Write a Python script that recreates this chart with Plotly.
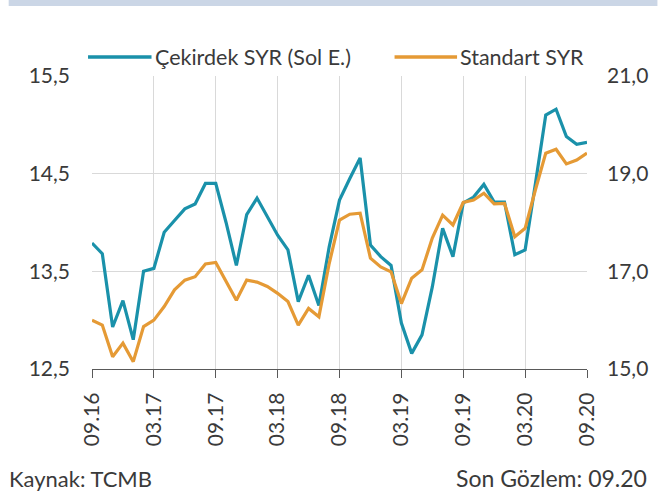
import plotly.graph_objects as go

months = [f"{m:02d}.{y}" for y, m in
          [(16, 9), (16, 10), (16, 11), (16, 12)] +
          [(yy, mm) for yy in (17, 18, 19) for mm in range(1, 13)] +
          [(20, mm) for mm in range(1, 10)]]

cekirdek = [13.79, 13.68, 12.93, 13.20, 12.80, 13.50, 13.53, 13.90, 14.02, 14.14,
            14.19, 14.40, 14.40, 14.00, 13.56, 14.08, 14.25, 14.06, 13.87, 13.72,
            13.19, 13.46, 13.15, 13.75, 14.23, 14.45, 14.66, 13.77, 13.65, 13.56,
            12.97, 12.66, 12.85, 13.34, 13.94, 13.65, 14.20, 14.26, 14.39, 14.21,
            14.21, 13.67, 13.72, 14.40, 15.10, 15.16, 14.88, 14.80, 14.82]

standart = [16.00, 15.90, 15.25, 15.53, 15.15, 15.87, 16.00, 16.28, 16.62, 16.82,
            16.89, 17.15, 17.18, 16.79, 16.41, 16.82, 16.78, 16.69, 16.55, 16.38,
            15.90, 16.24, 16.07, 17.16, 18.05, 18.17, 18.19, 17.27, 17.09, 16.99,
            16.34, 16.86, 17.03, 17.68, 18.15, 17.95, 18.41, 18.46, 18.60, 18.38,
            18.39, 17.71, 17.88, 18.67, 19.42, 19.50, 19.20, 19.28, 19.42]

x_ticks = ["09.16", "03.17", "09.17", "03.18", "09.18", "03.19", "09.19", "03.20", "09.20"]
left_ticks = [12.5, 13.5, 14.5, 15.5]
left_text = ["12,5", "13,5", "14,5", "15,5"]
right_ticks = [15, 17, 19, 21]
right_text = ["15,0", "17,0", "19,0", "21,0"]

TEAL = "#1a91aa"
ORANGE = "#e59a35"
TXT = "#3a3a3a"
FONT = "Lato"
FS = 21

xi = list(range(len(months)))
fig = go.Figure()
fig.add_trace(go.Scatter(x=xi, y=cekirdek, mode="lines", name="Çekirdek SYR (Sol E.)",
                         line=dict(color=TEAL, width=3.2), yaxis="y"))
fig.add_trace(go.Scatter(x=xi, y=standart, mode="lines", name="Standart SYR",
                         line=dict(color=ORANGE, width=3.2), yaxis="y2"))

tickvals = [months.index(t) for t in x_ticks]
fig.update_layout(
    width=660, height=497,
    margin=dict(l=92, r=69, t=76, b=128),
    paper_bgcolor="white", plot_bgcolor="white",
    showlegend=False,
    font=dict(family=FONT, size=FS, color=TXT),
    xaxis=dict(range=[0, len(months) - 1], tickmode="array", tickvals=tickvals,
               ticktext=x_ticks, tickangle=-90, showgrid=True, gridcolor="#d9d9d9",
               gridwidth=1, showline=True, linecolor="#595959", linewidth=1.3,
               ticks="outside", ticklen=8, tickcolor="#595959", zeroline=False,
               ticklabelstandoff=6, tickfont=dict(size=FS, color=TXT)),
    yaxis=dict(range=[12.5, 15.5], tickmode="array", tickvals=left_ticks,
               ticktext=left_text, showgrid=True, gridcolor="#d9d9d9", gridwidth=1,
               zeroline=False, ticklabelstandoff=21, tickfont=dict(size=FS, color=TXT)),
    yaxis2=dict(range=[15, 21], tickmode="array", tickvals=right_ticks,
                ticktext=right_text, overlaying="y", side="right", showgrid=False,
                zeroline=False, ticklabelstandoff=19, tickfont=dict(size=FS, color=TXT)),
)

W, H = 499.0, 293.0
def px(x):
    return (x - 92) / W
def py(y):
    return (369 - y) / H

shapes = [
    dict(type="rect", xref="paper", yref="paper", x0=px(8), x1=px(662), y0=py(0), y1=py(6),
         fillcolor="#cbd6e6", line=dict(width=0), layer="above"),
    dict(type="line", xref="paper", yref="paper", x0=px(88), x1=px(152), y0=py(57), y1=py(57),
         line=dict(color=TEAL, width=3.5)),
    dict(type="line", xref="paper", yref="paper", x0=px(397), x1=px(460), y0=py(57), y1=py(57),
         line=dict(color=ORANGE, width=3.5)),
]
annotations = [
    dict(text="Çekirdek SYR (Sol E.)", xref="paper", yref="paper", x=px(153), y=py(57),
         xanchor="left", yanchor="middle", showarrow=False, font=dict(size=21.5, color=TXT)),
    dict(text="Standart SYR", xref="paper", yref="paper", x=px(461), y=py(57),
         xanchor="left", yanchor="middle", showarrow=False, font=dict(size=21.5, color=TXT)),
    dict(text="Kaynak: TCMB", xref="paper", yref="paper", x=px(6), y=py(478),
         xanchor="left", yanchor="middle", showarrow=False, font=dict(size=22, color=TXT)),
    dict(text="Son Gözlem: 09.20", xref="paper", yref="paper", x=px(653), y=py(478),
         xanchor="right", yanchor="middle", showarrow=False, font=dict(size=23, color=TXT)),
]
fig.update_layout(shapes=shapes, annotations=annotations)
fig.write_html("out.html", config={"displayModeBar": False},
               post_script="document.body.style.margin='0';document.body.style.overflow='hidden';")
